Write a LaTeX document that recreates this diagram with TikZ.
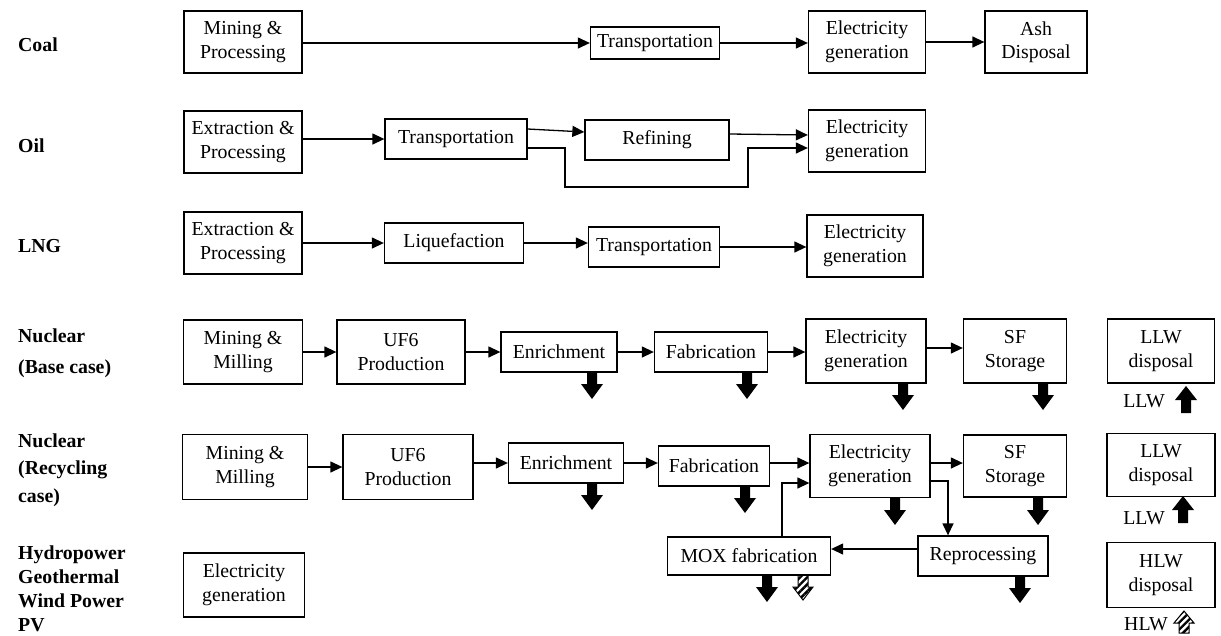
\documentclass[tikz,border=0pt]{standalone}
\usepackage{fontspec}
\setmainfont{Liberation Serif}
\usetikzlibrary{arrows.meta,patterns.meta}
\tikzset{
  box/.style={draw, line width=1.3pt, align=center, inner sep=0pt, font=\fontsize{19.8}{23.5}\selectfont},
  lab/.style={anchor=west, align=left, inner sep=0pt, font=\fontsize{19.8}{23.5}\selectfont\bfseries},
  sml/.style={inner sep=0pt, font=\fontsize{19.8}{23.5}\selectfont},
  conn/.style={line width=1.3pt, -{Triangle[length=12pt,width=11pt]}},
  hatch/.style={line width=1pt, pattern={Lines[angle=45,distance=5pt,line width=2.4pt]}},
  darr/.pic={\fill[black] (-5,0) -- (5,0) -- (5,12) -- (11,12) -- (0,27) -- (-11,12) -- (-5,12) -- cycle;},
  harr/.pic={\draw[hatch] (-5,0) -- (5,0) -- (5,12) -- (10,12) -- (0,25) -- (-10,12) -- (-5,12) -- cycle;},
  uarr/.pic={\fill[black] (0,0) -- (11,14) -- (5,14) -- (5,27) -- (-5,27) -- (-5,14) -- (-11,14) -- cycle;},
  huarr/.pic={\draw[hatch] (0,0) -- (10,12) -- (5,12) -- (5,22) -- (-5,22) -- (-5,12) -- (-10,12) -- cycle;},
}
\begin{document}
\begin{tikzpicture}[x=1pt,y=-1pt]
\useasboundingbox (0,0) rectangle (1221,635);

% row labels
\node[lab] (lcoal) at (18,45) {Coal};
\node[lab] (loil) at (18,146) {Oil};
\node[lab] (llng) at (18,246) {LNG};
\node[lab] (lnb) at (18,353) {Nuclear\\[7pt](Base case)};
\node[lab] (lnr) at (18,470) {Nuclear\\[4pt](Recycling\\[4pt]case)};
\node[lab, font=\fontsize{19.8}{24}\selectfont\bfseries] (lhy) at (18,589) {Hydropower\\Geothermal\\Wind Power\\PV};

% Coal
\node[box, minimum width=118, minimum height=62] (cm) at (243,42) {Mining \&\\Processing};
\node[box, minimum width=129, minimum height=32] (ct) at (655,43) {Transportation};
\node[box, minimum width=117, minimum height=62] (ce) at (867,42) {Electricity\\generation};
\node[box, minimum width=102, minimum height=62] (ca) at (1036,42) {Ash\\Disposal};
\draw[conn] (cm.east |- ct.west) -- (ct.west);
\draw[conn] (ct.east) -- (ct.east -| ce.west);
\draw[conn] (ce.east) -- (ce.east -| ca.west);

% Oil
\node[box, minimum width=118, minimum height=62] (oex) at (243,142) {Extraction \&\\Processing};
\node[box, minimum width=142, minimum height=40] (otr) at (456,139) {Transportation};
\node[box, minimum width=144, minimum height=40] (orf) at (657,140) {Refining};
\node[box, minimum width=117, minimum height=62] (oel) at (867,141) {Electricity\\generation};
\draw[conn] (oex.east |- otr.west) -- (otr.west);
\draw[conn] ([yshift=10pt]otr.east) -- ([yshift=8pt]orf.west);
\draw[conn] ([yshift=6pt]orf.east) -- ([yshift=6pt]oel.west);
\draw[conn] ([yshift=-9pt]otr.east) -| (565,187) -| (748,148) -- ([yshift=-7pt]oel.west);

% LNG
\node[box, minimum width=118, minimum height=62] (lex) at (243,243) {Extraction \&\\Processing};
\node[box, minimum width=139, minimum height=40] (llq) at (454,243) {Liquefaction};
\node[box, minimum width=131, minimum height=40] (ltr) at (654,247) {Transportation};
\node[box, minimum width=116, minimum height=62] (lel) at (865,246) {Electricity\\generation};
\draw[conn] (lex.east) -- (llq.west);
\draw[conn] (llq.east) -- (llq.east -| ltr.west);
\draw[conn] (ltr.east) -- (ltr.east -| lel.west);

% Nuclear base case
\node[box, minimum width=119, minimum height=64] (bmi) at (243,352) {Mining \&\\Milling};
\node[box, minimum width=128, minimum height=64] (buf) at (401,352) {UF6\\Production};
\node[box, minimum width=116, minimum height=40] (ben) at (559,352) {Enrichment};
\node[box, minimum width=113, minimum height=40] (bfa) at (711,352) {Fabrication};
\node[box, minimum width=120, minimum height=64] (bel) at (866,351) {Electricity\\generation};
\node[box, minimum width=103, minimum height=64] (bsf) at (1015,351) {SF\\Storage};
\node[box, minimum width=107, minimum height=64] (bll) at (1161,351) {LLW\\disposal};
\draw[conn] (bmi.east) -- (buf.west);
\draw[conn] (buf.east) -- (ben.west);
\draw[conn] (ben.east) -- (bfa.west);
\draw[conn] (bfa.east) -- (bfa.east -| bel.west);
\draw[conn] ([yshift=3pt]bel.east) -- ([yshift=3pt]bsf.west);
\pic at (592,372) {darr};
\pic at (747,372) {darr};
\pic at (903,383) {darr};
\pic at (1043,383) {darr};
\node[sml] (bllw) at (1144,401) {LLW};
\pic at (1186,386) {uarr};

% Nuclear recycling case
\node[box, minimum width=125, minimum height=65] (rmi) at (245,467) {Mining \&\\Milling};
\node[box, minimum width=130, minimum height=65] (ruf) at (408,467) {UF6\\Production};
\node[box, minimum width=115, minimum height=40] (ren) at (566,463) {Enrichment};
\node[box, minimum width=111, minimum height=40] (rfa) at (714,466) {Fabrication};
\node[box, minimum width=120, minimum height=63] (rel) at (870,466) {Electricity\\generation};
\node[box, minimum width=103, minimum height=62] (rsf) at (1015,466) {SF\\Storage};
\node[box, minimum width=108, minimum height=63] (rll) at (1161,465) {LLW\\disposal};
\node[box, minimum width=130, minimum height=40] (rrp) at (983,556) {Reprocessing};
\node[box, minimum width=163, minimum height=38] (rmx) at (749,556) {MOX fabrication};
\draw[conn] (rmi.east |- ruf.west) -- (ruf.west);
\draw[conn] (ruf.east |- ren.west) -- (ren.west);
\draw[conn] (ren.east) -- (ren.east -| rfa.west);
\draw[conn] ([yshift=3pt]rfa.east) -- ([yshift=3pt]rfa.east -| rel.west);
\draw[conn] ([yshift=3pt]rel.east) -- ([yshift=3pt]rsf.west);
\draw[conn] ([yshift=-15pt,xshift=-2pt]rel.east) -| ([xshift=-35pt]rrp.north);
\draw[conn] ([yshift=7pt]rrp.west) -- ([yshift=7pt]rmx.east);
\draw[conn] ([xshift=33pt]rmx.north) |- ([yshift=-17pt]rel.west);
\pic at (592,483) {darr};
\pic at (745,486) {darr};
\pic at (895,498) {darr};
\pic at (1038,498) {darr};
\pic at (767,575) {darr};
\pic at (803,575) {harr};
\pic at (1020,576) {darr};
\node[sml] (rllw) at (1144,518) {LLW};
\pic at (1183,496) {uarr};

% HLW
\node[box, minimum width=108, minimum height=65] (hll) at (1161,575) {HLW\\disposal};
\node[sml] (hlw) at (1146,624) {HLW};
\pic at (1184,611) {huarr};

% Renewables
\node[box, minimum width=121, minimum height=64] (hel) at (244,585) {Electricity\\generation};
\end{tikzpicture}
\end{document}
